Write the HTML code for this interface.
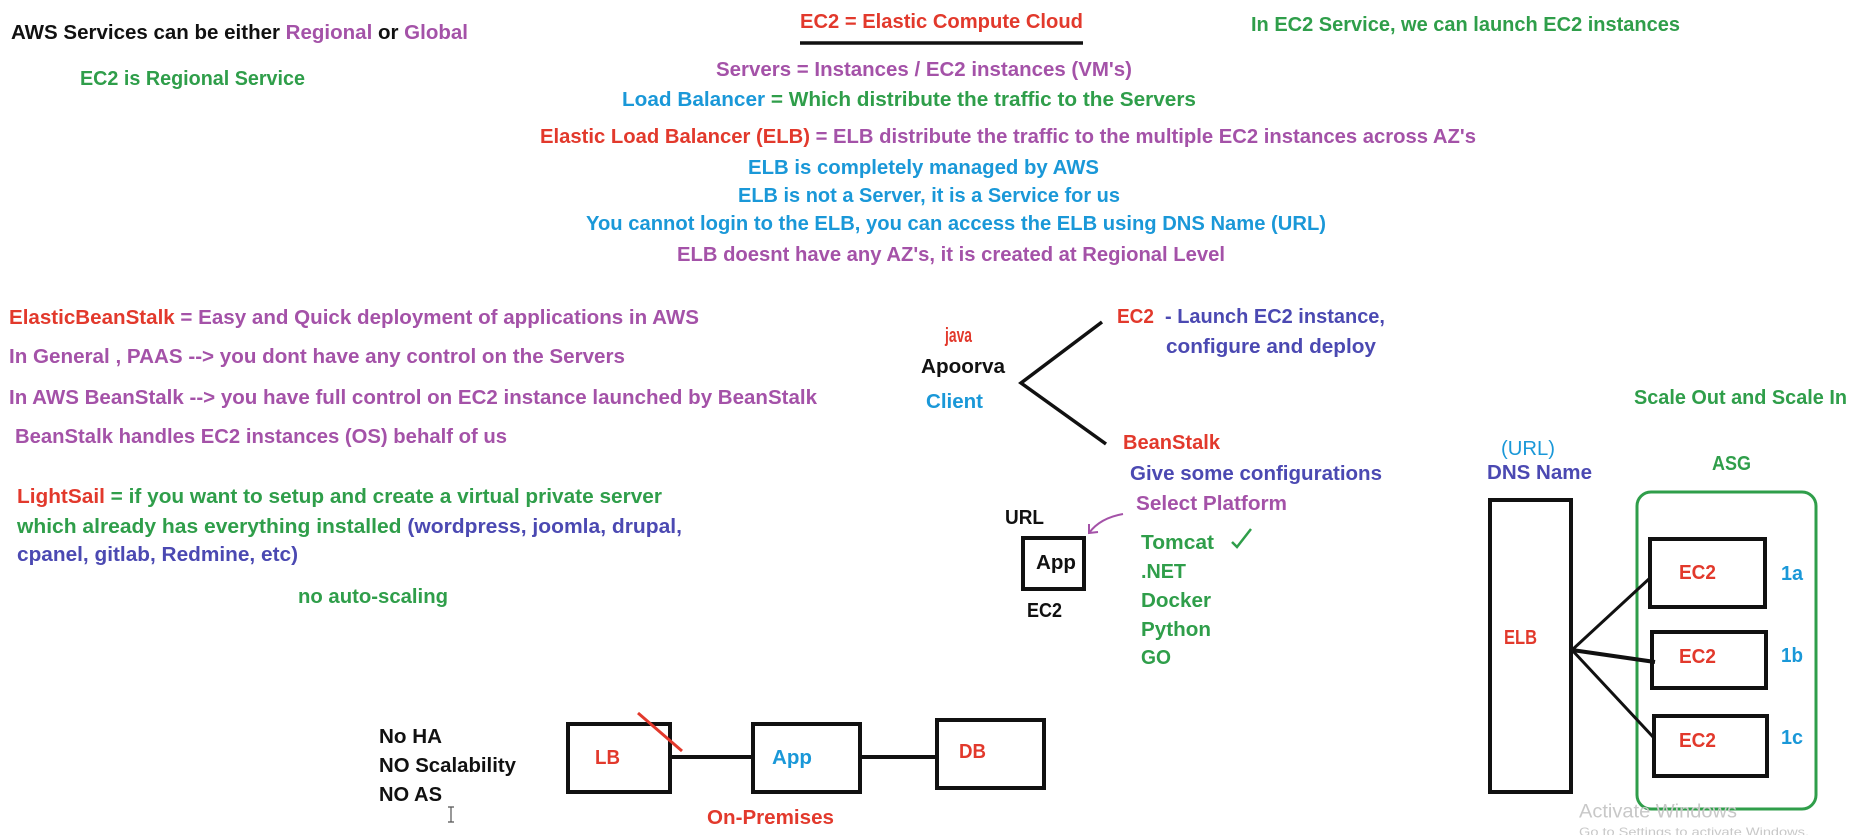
<!DOCTYPE html>
<html><head><meta charset="utf-8"><style>
html,body{margin:0;padding:0;background:#fff;}
svg{display:block;}
text{font-family:"Liberation Sans",sans-serif;font-size:20px;font-weight:bold;dominant-baseline:central;}
.r{fill:#e2392c}.p{fill:#a452a8}.g{fill:#2f9e4a}.b{fill:#1a98d8}.v{fill:#4b49b2}.k{fill:#111}
</style></head><body>
<svg width="1871" height="835" viewBox="0 0 1871 835" xmlns="http://www.w3.org/2000/svg">
<rect width="1871" height="835" fill="#fff"/>
<text x="11" y="33" textLength="457" lengthAdjust="spacingAndGlyphs" class="k">AWS Services can be either <tspan class="p">Regional</tspan> or <tspan class="p">Global</tspan></text>
<text x="80" y="79" textLength="225" lengthAdjust="spacingAndGlyphs" class="g">EC2 is Regional Service</text>
<text x="800" y="22" textLength="283" lengthAdjust="spacingAndGlyphs" class="r">EC2 = Elastic Compute Cloud</text>
<line x1="800" y1="43" x2="1083" y2="43" stroke="#111" stroke-width="3.5"/>
<text x="1251" y="25" textLength="429" lengthAdjust="spacingAndGlyphs" class="g">In EC2 Service, we can launch EC2 instances</text>
<text x="716" y="70" textLength="416" lengthAdjust="spacingAndGlyphs" class="p">Servers = Instances / EC2 instances (VM's)</text>
<text x="622" y="100" textLength="574" lengthAdjust="spacingAndGlyphs" class="b">Load Balancer <tspan class="g">= Which distribute the traffic to the Servers</tspan></text>
<text x="540" y="137" textLength="936" lengthAdjust="spacingAndGlyphs" class="r">Elastic Load Balancer (ELB) <tspan class="p">= ELB distribute the traffic to the multiple EC2 instances across AZ's</tspan></text>
<text x="748" y="168" textLength="351" lengthAdjust="spacingAndGlyphs" class="b">ELB is completely managed by AWS</text>
<text x="738" y="196" textLength="382" lengthAdjust="spacingAndGlyphs" class="b">ELB is not a Server, it is a Service for us</text>
<text x="586" y="224" textLength="740" lengthAdjust="spacingAndGlyphs" class="b">You cannot login to the ELB, you can access  the ELB using DNS Name (URL)</text>
<text x="677" y="255" textLength="548" lengthAdjust="spacingAndGlyphs" class="p">ELB doesnt have any AZ's, it is created at Regional Level</text>

<text x="9" y="318" textLength="690" lengthAdjust="spacingAndGlyphs" class="r">ElasticBeanStalk <tspan class="p">= Easy and Quick deployment of applications in AWS</tspan></text>
<text x="9" y="357" textLength="616" lengthAdjust="spacingAndGlyphs" class="p">In General , PAAS --&gt; you dont have any control on the Servers</text>
<text x="9" y="398" textLength="808" lengthAdjust="spacingAndGlyphs" class="p">In AWS BeanStalk --&gt; you have full control on EC2 instance launched by BeanStalk</text>
<text x="15" y="437" textLength="492" lengthAdjust="spacingAndGlyphs" class="p">BeanStalk handles EC2 instances (OS) behalf of us</text>
<text x="17" y="497" textLength="645" lengthAdjust="spacingAndGlyphs" class="r">LightSail <tspan class="g">= if you want to setup and create a virtual private server</tspan></text>
<text x="17" y="527" textLength="665" lengthAdjust="spacingAndGlyphs" class="g">which already has everything installed <tspan class="v">(wordpress, joomla, drupal,</tspan></text>
<text x="17" y="555" textLength="281" lengthAdjust="spacingAndGlyphs" class="v">cpanel, gitlab, Redmine, etc)</text>
<text x="298" y="597" textLength="150" lengthAdjust="spacingAndGlyphs" class="g">no auto-scaling</text>

<text x="945" y="336" textLength="27" lengthAdjust="spacingAndGlyphs" class="r">java</text>
<text x="921" y="367" textLength="84" lengthAdjust="spacingAndGlyphs" class="k">Apoorva</text>
<text x="926" y="402" textLength="57" lengthAdjust="spacingAndGlyphs" class="b">Client</text>
<polyline points="1102,322 1021,383 1106,444" fill="none" stroke="#111" stroke-width="3.5"/>
<text x="1117" y="317" textLength="37" lengthAdjust="spacingAndGlyphs" class="r">EC2</text>
<text x="1165" y="317" textLength="220" lengthAdjust="spacingAndGlyphs" class="v">- Launch EC2 instance,</text>
<text x="1166" y="347" textLength="210" lengthAdjust="spacingAndGlyphs" class="v">configure and deploy</text>
<text x="1123" y="443" textLength="97" lengthAdjust="spacingAndGlyphs" class="r">BeanStalk</text>
<text x="1130" y="474" textLength="252" lengthAdjust="spacingAndGlyphs" class="v">Give some configurations</text>
<text x="1136" y="504" textLength="151" lengthAdjust="spacingAndGlyphs" class="p">Select Platform</text>
<text x="1141" y="543" textLength="73" lengthAdjust="spacingAndGlyphs" class="g">Tomcat</text>
<path d="M1232,542 L1237,547 L1251,529" fill="none" stroke="#2f9e4a" stroke-width="2.5"/>
<text x="1141" y="572" textLength="45" lengthAdjust="spacingAndGlyphs" class="g">.NET</text>
<text x="1141" y="601" textLength="70" lengthAdjust="spacingAndGlyphs" class="g">Docker</text>
<text x="1141" y="630" textLength="70" lengthAdjust="spacingAndGlyphs" class="g">Python</text>
<text x="1141" y="658" textLength="30" lengthAdjust="spacingAndGlyphs" class="g">GO</text>
<text x="1005" y="518" textLength="39" lengthAdjust="spacingAndGlyphs" class="k">URL</text>
<path d="M1123,514 Q1100,518 1089,533" fill="none" stroke="#a452a8" stroke-width="2"/>
<path d="M1089,524 L1089,533 L1098,532" fill="none" stroke="#a452a8" stroke-width="2"/>
<rect x="1023" y="538" width="61" height="51" fill="none" stroke="#111" stroke-width="4"/>
<text x="1036" y="563" textLength="40" lengthAdjust="spacingAndGlyphs" class="k">App</text>
<text x="1027" y="611" textLength="35" lengthAdjust="spacingAndGlyphs" class="k">EC2</text>

<text x="379" y="737" textLength="63" lengthAdjust="spacingAndGlyphs" class="k">No HA</text>
<text x="379" y="766" textLength="137" lengthAdjust="spacingAndGlyphs" class="k">NO Scalability</text>
<text x="379" y="795" textLength="63" lengthAdjust="spacingAndGlyphs" class="k">NO AS</text>
<path d="M451,807 V822 M448,807 H454 M448,822 H454" stroke="#555" stroke-width="1.2"/>
<rect x="568" y="724" width="102" height="68" fill="none" stroke="#111" stroke-width="4"/>
<text x="595" y="758" textLength="25" lengthAdjust="spacingAndGlyphs" class="r">LB</text>
<line x1="638" y1="713" x2="682" y2="751" stroke="#e2392c" stroke-width="3"/>
<line x1="670" y1="757" x2="753" y2="757" stroke="#111" stroke-width="4"/>
<rect x="753" y="724" width="107" height="68" fill="none" stroke="#111" stroke-width="4"/>
<text x="772" y="758" textLength="40" lengthAdjust="spacingAndGlyphs" class="b">App</text>
<line x1="860" y1="757" x2="937" y2="757" stroke="#111" stroke-width="4"/>
<rect x="937" y="720" width="107" height="68" fill="none" stroke="#111" stroke-width="4"/>
<text x="959" y="752" textLength="27" lengthAdjust="spacingAndGlyphs" class="r">DB</text>
<text x="707" y="818" textLength="127" lengthAdjust="spacingAndGlyphs" class="r">On-Premises</text>

<text x="1634" y="398" textLength="213" lengthAdjust="spacingAndGlyphs" class="g">Scale Out and Scale In</text>
<text x="1501" y="449" textLength="54" lengthAdjust="spacingAndGlyphs" class="b" style="font-weight:normal">(URL)</text>
<text x="1487" y="473" textLength="105" lengthAdjust="spacingAndGlyphs" class="v">DNS Name</text>
<text x="1712" y="464" textLength="39" lengthAdjust="spacingAndGlyphs" class="g">ASG</text>
<rect x="1490" y="500" width="81" height="292" fill="none" stroke="#111" stroke-width="4"/>
<text x="1504" y="638" textLength="33" lengthAdjust="spacingAndGlyphs" class="r">ELB</text>
<rect x="1637" y="492" width="179" height="317" rx="14" fill="none" stroke="#2f9e4a" stroke-width="3"/>
<rect x="1650" y="539" width="115" height="68" fill="none" stroke="#111" stroke-width="4"/>
<rect x="1652" y="632" width="114" height="56" fill="none" stroke="#111" stroke-width="4"/>
<rect x="1654" y="716" width="113" height="60" fill="none" stroke="#111" stroke-width="4"/>
<line x1="1572" y1="650" x2="1650" y2="578" stroke="#111" stroke-width="3"/>
<line x1="1572" y1="650" x2="1655" y2="662" stroke="#111" stroke-width="4"/>
<line x1="1572" y1="650" x2="1654" y2="738" stroke="#111" stroke-width="3"/>
<text x="1679" y="573" textLength="37" lengthAdjust="spacingAndGlyphs" class="r">EC2</text>
<text x="1679" y="657" textLength="37" lengthAdjust="spacingAndGlyphs" class="r">EC2</text>
<text x="1679" y="741" textLength="37" lengthAdjust="spacingAndGlyphs" class="r">EC2</text>
<text x="1781" y="574" textLength="22" lengthAdjust="spacingAndGlyphs" class="b">1a</text>
<text x="1781" y="656" textLength="22" lengthAdjust="spacingAndGlyphs" class="b">1b</text>
<text x="1781" y="738" textLength="22" lengthAdjust="spacingAndGlyphs" class="b">1c</text>
<text x="1579" y="812" textLength="158" lengthAdjust="spacingAndGlyphs" style="font-weight:normal;font-size:19px;fill:#c8c8c8">Activate Windows</text>
<text x="1579" y="832" textLength="230" lengthAdjust="spacingAndGlyphs" style="font-weight:normal;font-size:12px;fill:#c8c8c8">Go to Settings to activate Windows.</text>
</svg>
</body></html>
